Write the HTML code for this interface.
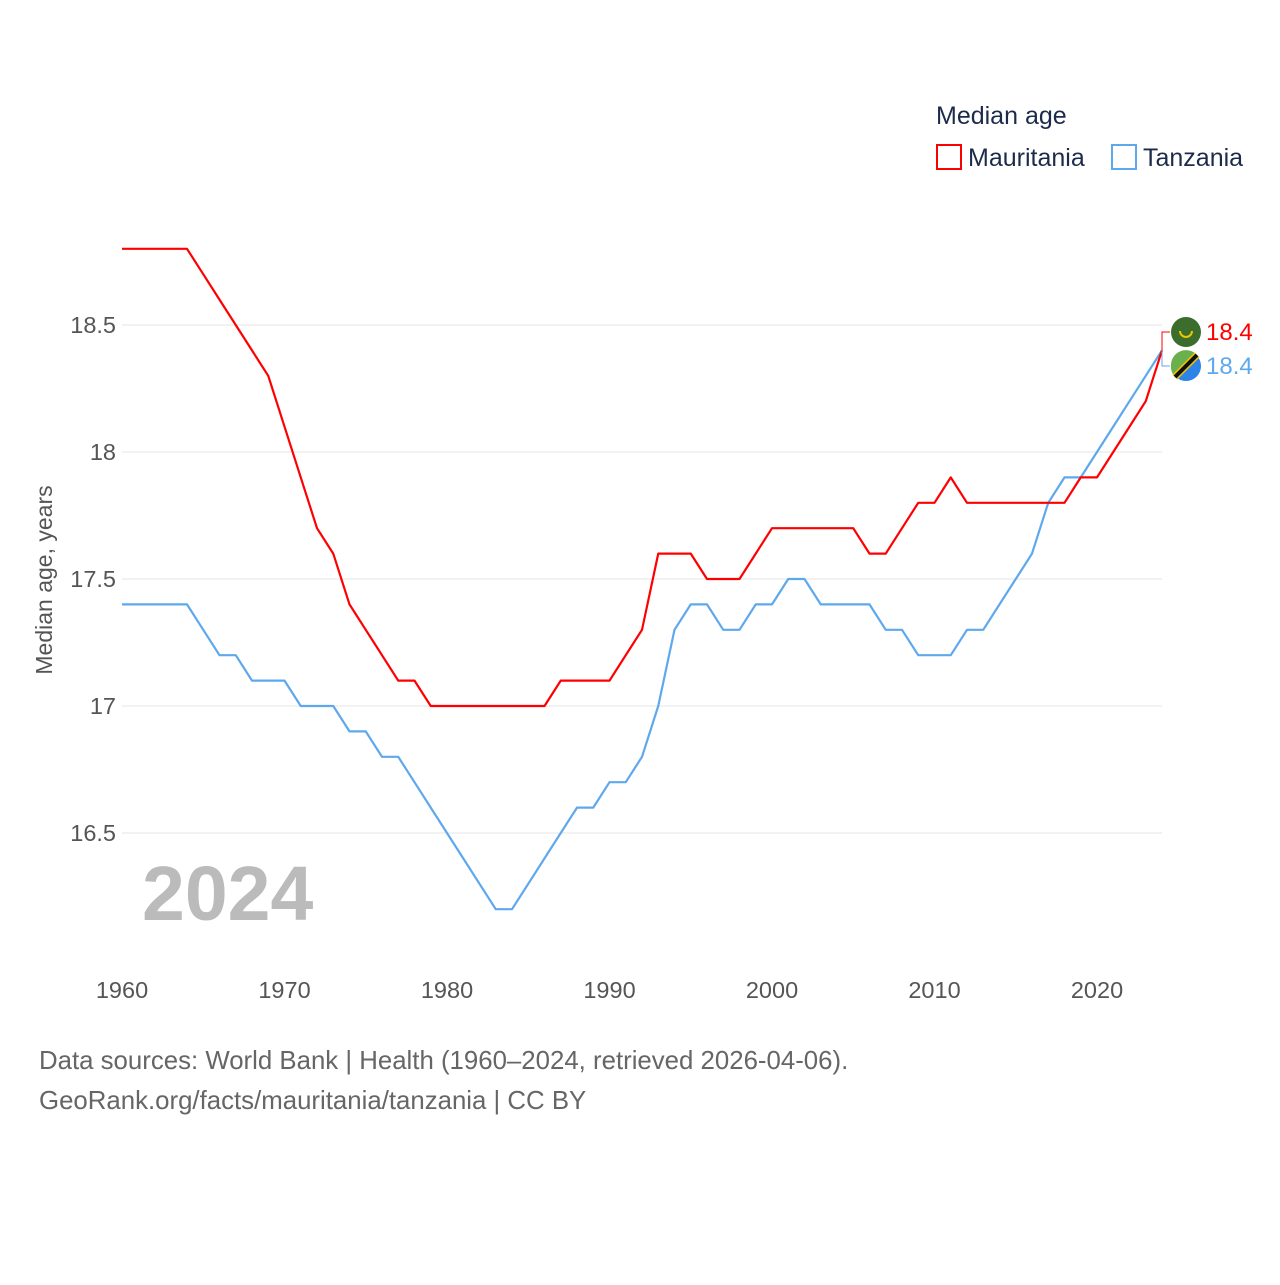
<!DOCTYPE html>
<html><head><meta charset="utf-8"><style>
body{margin:0;background:#fff;font-family:"Liberation Sans",sans-serif}
svg text{font-family:"Liberation Sans",sans-serif}
</style></head><body>
<svg width="1280" height="1280" viewBox="0 0 1280 1280" xmlns="http://www.w3.org/2000/svg">
<rect width="1280" height="1280" fill="#fff"/>
<g>
<text x="936" y="124" font-size="25" fill="#1d2b4a">Median age</text>
<rect x="937" y="145" width="24" height="24" fill="none" stroke="#ff0000" stroke-width="2"/>
<text x="968" y="166" font-size="25" fill="#1d2b4a">Mauritania</text>
<rect x="1112" y="145" width="24" height="24" fill="none" stroke="#5ea8ee" stroke-width="2"/>
<text x="1143" y="166" font-size="25" fill="#1d2b4a">Tanzania</text>
</g>
<g id="grid"></g>
<g id="yt"></g>
<g id="xt"></g>
<text x="52" y="580" font-size="23" fill="#555" transform="rotate(-90 52 580)" text-anchor="middle">Median age, years</text>
<text x="142" y="920" font-size="77" font-weight="bold" fill="#bbb">2024</text>
<g id="series"></g>
<text x="39" y="1069" font-size="25.8" fill="#666">Data sources: World Bank | Health (1960–2024, retrieved 2026-04-06).</text>
<text x="39" y="1109" font-size="25.8" fill="#666">GeoRank.org/facts/mauritania/tanzania | CC BY</text>
</svg>
<script>
const years=[];for(let y=1960;y<=2024;y++)years.push(y);
const mauritania=[18.8,18.8,18.8,18.8,18.8,18.7,18.6,18.5,18.4,18.3,18.1,17.9,17.7,17.6,17.4,17.3,17.2,17.1,17.1,17.0,17.0,17.0,17.0,17.0,17.0,17.0,17.0,17.1,17.1,17.1,17.1,17.2,17.3,17.6,17.6,17.6,17.5,17.5,17.5,17.6,17.7,17.7,17.7,17.7,17.7,17.7,17.6,17.6,17.7,17.8,17.8,17.9,17.8,17.8,17.8,17.8,17.8,17.8,17.8,17.9,17.9,18.0,18.1,18.2,18.4];
const tanzania=[17.4,17.4,17.4,17.4,17.4,17.3,17.2,17.2,17.1,17.1,17.1,17.0,17.0,17.0,16.9,16.9,16.8,16.8,16.7,16.6,16.5,16.4,16.3,16.2,16.2,16.3,16.4,16.5,16.6,16.6,16.7,16.7,16.8,17.0,17.3,17.4,17.4,17.3,17.3,17.4,17.4,17.5,17.5,17.4,17.4,17.4,17.4,17.3,17.3,17.2,17.2,17.2,17.3,17.3,17.4,17.5,17.6,17.8,17.9,17.9,18.0,18.1,18.2,18.3,18.4];
const yTicks=[16.5,17,17.5,18,18.5];
const yTickLabels=["16.5","17","17.5","18","18.5"];
const xTicks=[1960,1970,1980,1990,2000,2010,2020];
const NS="http://www.w3.org/2000/svg";
const X=v=>122+(v-1960)*16.25;
const Y=v=>452-(v-18)*254;
function mk(t,a,p){const e=document.createElementNS(NS,t);for(const k in a)e.setAttribute(k,a[k]);p.appendChild(e);return e;}
const grid=document.getElementById('grid'),yt=document.getElementById('yt'),xt=document.getElementById('xt'),ser=document.getElementById('series');
yTicks.forEach((v,i)=>{
 const l=mk('line',{x1:122,x2:1162,y1:Y(v),y2:Y(v),stroke:'#e6e6e6','stroke-width':1},grid);
 
 
 const t=mk('text',{x:116,y:Y(v)+8,'font-size':23.5,fill:'#555','text-anchor':'end'},yt);t.textContent=yTickLabels[i];
 
 
});
xTicks.forEach(v=>{
 const t=mk('text',{x:X(v),y:998,'font-size':23.5,fill:'#555','text-anchor':'middle'},xt);t.textContent=v;
 
 
});
function line(d,c,name){
 const p=mk('polyline',{points:d.map((v,i)=>X(years[i])+','+Y(v)).join(' '),fill:'none',stroke:c,'stroke-width':2.2,'stroke-linejoin':'round'},ser);
 
 
}
line(tanzania,'#5ea8ee','line-tanzania');
line(mauritania,'#ff0000','line-mauritania');
const lm=mauritania[mauritania.length-1],lt=tanzania[tanzania.length-1];
const ex=X(2024);
const c1=mk('path',{d:`M${ex} ${Y(lm)} V332 H1170`,fill:'none',stroke:'#ff0000','stroke-width':1},ser);


const c2=mk('path',{d:`M${ex} ${Y(lt)} V366 H1170`,fill:'none',stroke:'#5ea8ee','stroke-width':1},ser);


const f1=mk('circle',{cx:1186,cy:332,r:15,fill:'#3b6e2c'},ser);


const f1b=mk('path',{d:'M1180 331 a6 6 0 0 0 12 0',fill:'none',stroke:'#f2c300','stroke-width':2},ser);


const g2=mk('g',{},ser);


mk('circle',{cx:1186,cy:366,r:15,fill:'#2c83e8'},g2);
mk('path',{d:'M1171 366 A15 15 0 0 1 1197 355 L1175 377 A15 15 0 0 1 1171 366Z',fill:'#6ab04c'},g2);
mk('line',{x1:1175,y1:377,x2:1197,y2:355,stroke:'#f2c300','stroke-width':7},g2);
mk('line',{x1:1175,y1:377,x2:1197,y2:355,stroke:'#111','stroke-width':4},g2);
const t1=mk('text',{x:1206,y:340,'font-size':24,fill:'#ff0000'},ser);t1.textContent=lm.toFixed(1);


const t2=mk('text',{x:1206,y:374,'font-size':24,fill:'#5ea8ee'},ser);t2.textContent=lt.toFixed(1);


</script>
</body></html>
